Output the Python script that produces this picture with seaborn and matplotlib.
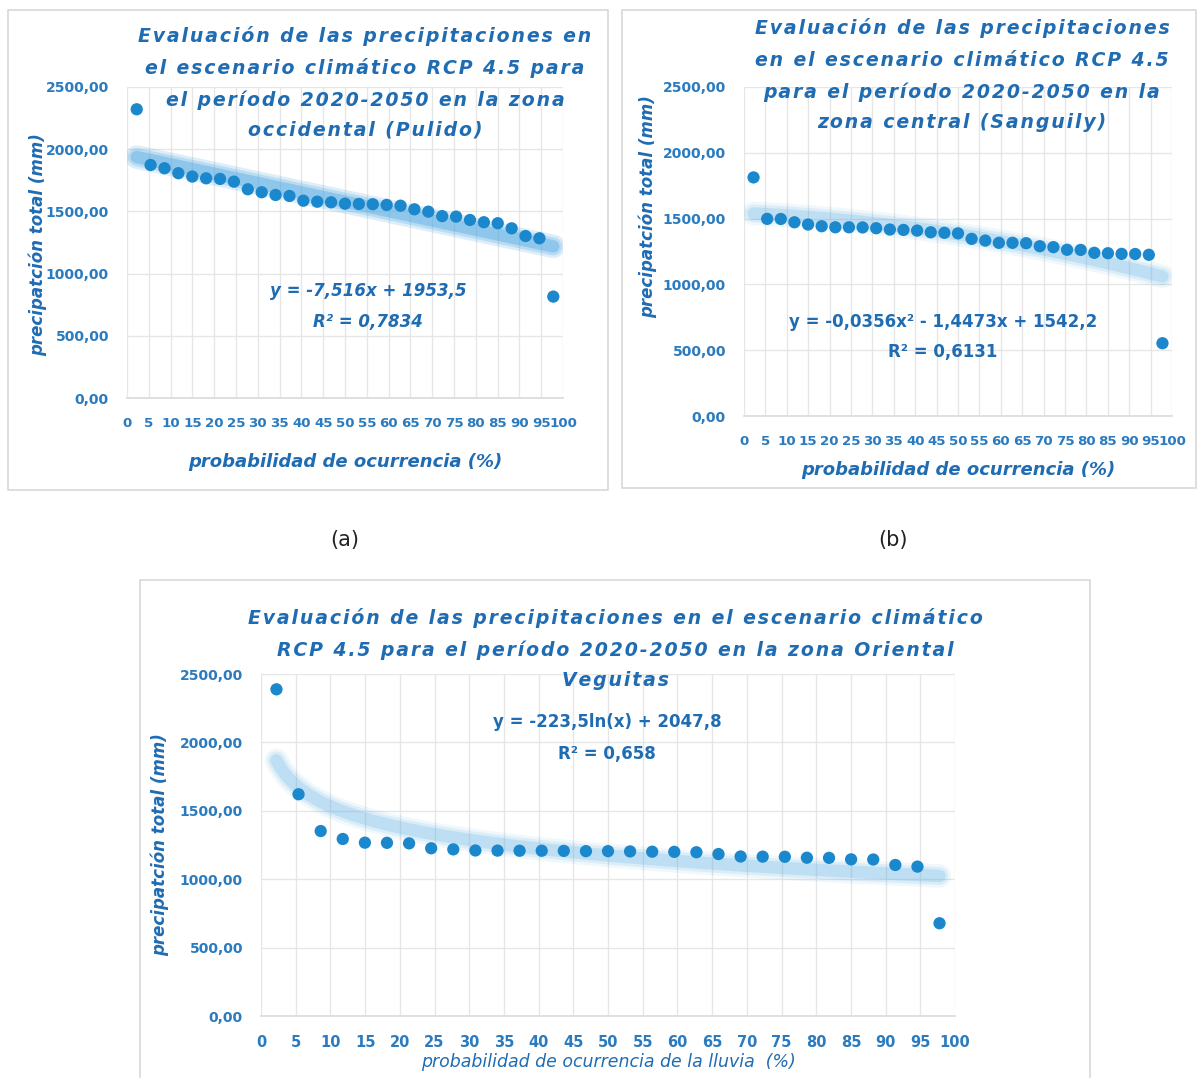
import numpy as np
import pandas as pd
import matplotlib
matplotlib.use('Agg')
import matplotlib.pyplot as plt
import seaborn as sns
from matplotlib.patches import Rectangle
from matplotlib.ticker import FuncFormatter, MultipleLocator

sns.set_theme(style='white')
plt.rcParams['font.family'] = ['DejaVu Sans']

# probabilidad de ocurrencia (%) - same ranks for the three stations
prob = [2.23, 5.41, 8.60, 11.78, 14.97, 18.15, 21.34, 24.52, 27.71, 30.89,
        34.08, 37.26, 40.45, 43.63, 46.82, 50.00, 53.18, 56.37, 59.55, 62.74,
        65.92, 69.11, 72.29, 75.48, 78.66, 81.85, 85.03, 88.22, 91.40, 94.59,
        97.77]

# precipitacion total (mm)
precip_pulido = [2321, 1873, 1847, 1807, 1780, 1766, 1761, 1739, 1678, 1654,
                 1632, 1624, 1586, 1578, 1573, 1562, 1560, 1558, 1552, 1546,
                 1517, 1498, 1462, 1458, 1431, 1413, 1405, 1364, 1302, 1284,
                 815]
precip_sanguily = [1813, 1498, 1497, 1472, 1455, 1442, 1434, 1434, 1433, 1427,
                   1417, 1414, 1409, 1396, 1392, 1388, 1346, 1333, 1316, 1316,
                   1313, 1290, 1283, 1263, 1262, 1240, 1237, 1232, 1231, 1225,
                   553]
precip_veguitas = [2388, 1621, 1352, 1294, 1267, 1266, 1262, 1226, 1218, 1210,
                   1209, 1208, 1208, 1207, 1205, 1205, 1203, 1201, 1200, 1197,
                   1184, 1166, 1165, 1164, 1157, 1156, 1145, 1144, 1104, 1092,
                   678]

# Excel trendline coefficients (shown on the chart)
coef_pulido = [-7.516, 1953.5]                 # linear
coef_sanguily = [-0.0356, -1.4473, 1542.2]     # polynomial 2nd order
coef_veguitas = [-223.5, 2047.8]               # logarithmic

eq_pulido = ['y = -7,516x + 1953,5', 'R² = 0,7834']
eq_sanguily = ['y = -0,0356x² - 1,4473x + 1542,2', 'R² = 0,6131']
eq_veguitas = ['y = -223,5ln(x) + 2047,8', 'R² = 0,658']

title_a = ['Evaluación de las precipitaciones en', 'el escenario climático RCP 4.5 para',
           'el período 2020-2050 en la zona', 'occidental (Pulido)']
title_b = ['Evaluación de las precipitaciones', 'en el escenario climático RCP 4.5',
           'para el período 2020-2050 en la', 'zona central (Sanguily)']
title_c = ['Evaluación de las precipitaciones en el escenario climático',
           'RCP 4.5 para el período 2020-2050 en la zona Oriental', 'Veguitas']

point_color = '#1b87cc'
trend_color = '#4aa6e2'
title_color = '#1f6cb3'
tick_color = '#2a7bbf'
grid_color = '#e6e6e6'

W, H = 1201, 1078


def fx(px):
    return px / W


def fy(py):
    return 1 - py / H


def spaced(line):
    # Excel titles are drawn with extra letter spacing
    return '\u200a'.join(line)


fig = plt.figure(figsize=(W / 100, H / 100), dpi=100)

# panel frames
for (x0, y0, x1, y1) in [(8, 10, 608, 490), (622, 10, 1196, 488), (140, 580, 1090, 1085)]:
    fig.patches.append(Rectangle((fx(x0), fy(y1)), fx(x1 - x0), (y1 - y0) / H,
                                 transform=fig.transFigure, fill=False,
                                 edgecolor='#d8d8d8', lw=1.2))

ax_a = fig.add_axes([fx(127), fy(398), fx(436), 311 / H])
ax_b = fig.add_axes([fx(744), fy(416), fx(428), 329 / H])
ax_c = fig.add_axes([fx(261), fy(1016), fx(694), 342 / H])

x_fit = np.linspace(min(prob), max(prob), 300)
fit_a = np.polyval(coef_pulido, x_fit)
fit_b = np.polyval(coef_sanguily, x_fit)
fit_c = coef_veguitas[0] * np.log(x_fit) + coef_veguitas[1]

panels = [
    (ax_a, precip_pulido, fit_a, [0.18, 0.24, 0.38], 9.6),
    (ax_b, precip_sanguily, fit_b, [0.08, 0.12, 0.20], 9.6),
    (ax_c, precip_veguitas, fit_c, [0.08, 0.12, 0.20], 10.5),
]

for ax, vals, fit, alphas, fs in panels:
    df = pd.DataFrame({'prob': prob, 'precip': vals})
    # blurred, thick Excel-style trendline
    for lw, a in zip([17, 13, 9], alphas):
        sns.lineplot(x=x_fit, y=fit, ax=ax, color=trend_color, lw=lw, alpha=a,
                     solid_capstyle='round', zorder=2)
    sns.scatterplot(data=df, x='prob', y='precip', ax=ax, s=78, color=point_color,
                    edgecolor='none', zorder=3)
    ax.set_xlim(0, 100)
    ax.set_ylim(0, 2500)
    ax.xaxis.set_major_locator(MultipleLocator(5))
    ax.yaxis.set_major_locator(MultipleLocator(500))
    ax.yaxis.set_major_formatter(FuncFormatter(lambda v, p: f'{v:.2f}'.replace('.', ',')))
    ax.xaxis.set_major_formatter(FuncFormatter(lambda v, p: f'{int(round(v))}'))
    ax.grid(True, color=grid_color, lw=1)
    for s in ax.spines.values():
        s.set_visible(False)
    ax.spines['bottom'].set_visible(True)
    ax.spines['bottom'].set_color('#dcdcdc')
    ax.tick_params(length=0, colors=tick_color)
    ax.tick_params(axis='y', pad=13, labelsize=10)
    ax.tick_params(axis='x', pad=14, labelsize=fs)
    for lab in ax.get_xticklabels() + ax.get_yticklabels():
        lab.set_fontweight('bold')
    ax.set_xlabel('')
    ax.set_ylabel('')
    ax.set_facecolor('none')

# titles, one text per line
tkw = dict(ha='center', va='center', fontsize=13.6, fontweight='bold', style='italic',
           color=title_color)
for line, yy in zip(title_a, [36, 68, 100, 130]):
    fig.text(fx(365), fy(yy), spaced(line), **tkw)
for line, yy in zip(title_b, [28, 60, 92, 122]):
    fig.text(fx(962), fy(yy), spaced(line), **tkw)
for line, yy in zip(title_c, [618, 650, 681]):
    fig.text(fx(615), fy(yy), spaced(line), **tkw)

# equations
fig.text(fx(368), fy(291), eq_pulido[0], ha='center', va='center', fontsize=12,
         fontweight='bold', style='italic', color=title_color)
fig.text(fx(368), fy(322), eq_pulido[1], ha='center', va='center', fontsize=12,
         fontweight='bold', style='italic', color=title_color)
fig.text(fx(943), fy(322), eq_sanguily[0], ha='center', va='center', fontsize=12,
         fontweight='bold', color=title_color)
fig.text(fx(943), fy(352), eq_sanguily[1], ha='center', va='center', fontsize=12,
         fontweight='bold', color=title_color)
fig.text(fx(607), fy(722), eq_veguitas[0], ha='center', va='center', fontsize=12,
         fontweight='bold', color=title_color)
fig.text(fx(607), fy(754), eq_veguitas[1], ha='center', va='center', fontsize=12,
         fontweight='bold', color=title_color)

# axis titles
lkw = dict(ha='center', va='center', fontsize=13, fontweight='bold', style='italic',
           color=title_color)
fig.text(fx(345), fy(462), 'probabilidad de ocurrencia (%)', **lkw)
fig.text(fx(958), fy(470), 'probabilidad de ocurrencia (%)', **lkw)
fig.text(fx(608), fy(1062), 'probabilidad de ocurrencia de la lluvia  (%)', ha='center',
         va='center', fontsize=12.5, style='italic', color=title_color)

ykw = dict(ha='center', va='center', fontsize=12, fontweight='bold', style='italic',
           color=title_color, rotation=90)
fig.text(fx(38), fy(245), 'precipatción total (mm)', **ykw)
fig.text(fx(648), fy(207), 'precipatción total (mm)', **ykw)
fig.text(fx(160), fy(845), 'precipatción total (mm)', **ykw)

# sub-figure labels
fig.text(fx(345), fy(540), '(a)', ha='center', va='center', fontsize=15, color='#222222')
fig.text(fx(893), fy(540), '(b)', ha='center', va='center', fontsize=15, color='#222222')

fig.savefig('out.png', dpi=100, facecolor='white')
